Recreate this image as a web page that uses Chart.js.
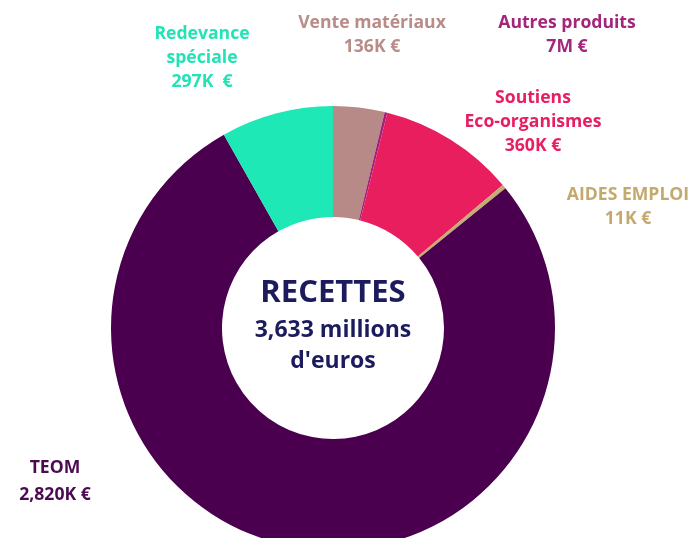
<!DOCTYPE html>
<html>
<head>
<meta charset="utf-8">
<script src="https://cdn.jsdelivr.net/npm/chart.js@4"></script>
<style>
  html, body { margin: 0; padding: 0; background: #fff; overflow: hidden; }
  #wrap { position: relative; width: 694px; height: 560px; }
</style>
</head>
<body>
<div id="wrap"><canvas id="c"></canvas></div>
<script>
// ---- data ----
const categories = ["Vente matériaux", "Autres produits", "Soutiens Eco-organismes", "AIDES EMPLOI", "TEOM", "Redevance spéciale"];
const values = [136, 7, 360, 11, 2820, 297]; // K€
const valueLabels = ["136K €", "7M €", "360K €", "11K €", "2,820K €", "297K  €"];
const labelLines = [["Vente matériaux"], ["Autres produits"], ["Soutiens", "Eco-organismes"], ["AIDES EMPLOI"], ["TEOM"], ["Redevance", "spéciale"]];
const centerTitle = "RECETTES";
const centerLines = ["3,633 millions", "d'euros"];

// ---- styles / positions ----
const colors = ["#b78a87", "#a0217c", "#e81e5f", "#c6ad72", "#4b004f", "#1ee8b6"];
const textColors = ["#b98c88", "#a3267c", "#e81e62", "#c3a96d", "#4c0a52", "#22e3b5"];
const labelPos = [[372, 23], [567, 23], [533, 98], [628, 195], [55, 468], [202, 34]];
const lineGap = 24;

const textPlugin = {
  id: 'texts',
  afterDraw(chart) {
    const ctx = chart.ctx;
    ctx.save();
    ctx.textAlign = 'center';
    ctx.textBaseline = 'middle';
    ctx.font = '700 17.6px "Open Sans"';
    labelLines.forEach((lines, i) => {
      const all = lines.concat([valueLabels[i]]);
      const gap = i === 4 ? 27 : lineGap;
      ctx.fillStyle = textColors[i];
      all.forEach((t, j) => ctx.fillText(t, labelPos[i][0], labelPos[i][1] + j * gap));
    });
    const arc = chart.getDatasetMeta(0).data[0];
    const cx = arc.x, cy = arc.y;
    ctx.fillStyle = '#1b1b5e';
    ctx.font = '700 31px "Open Sans"';
    ctx.fillText(centerTitle, cx, cy - 35);
    ctx.font = '700 23px "Open Sans"';
    ctx.fillText(centerLines[0], cx, cy + 2);
    ctx.fillText(centerLines[1], cx, cy + 33);
    ctx.restore();
  }
};

new Chart(document.getElementById('c'), {
  type: 'doughnut',
  data: {
    labels: categories,
    datasets: [{
      data: values,
      backgroundColor: colors,
      borderWidth: 0,
      hoverOffset: 0
    }]
  },
  options: {
    responsive: true,
    maintainAspectRatio: false,
    animation: false,
    cutout: '50%',
    layout: { padding: { left: 111, right: 139, top: 106, bottom: 10 } },
    plugins: { legend: { display: false }, tooltip: { enabled: false } }
  },
  plugins: [textPlugin]
});
</script>
</body>
</html>
